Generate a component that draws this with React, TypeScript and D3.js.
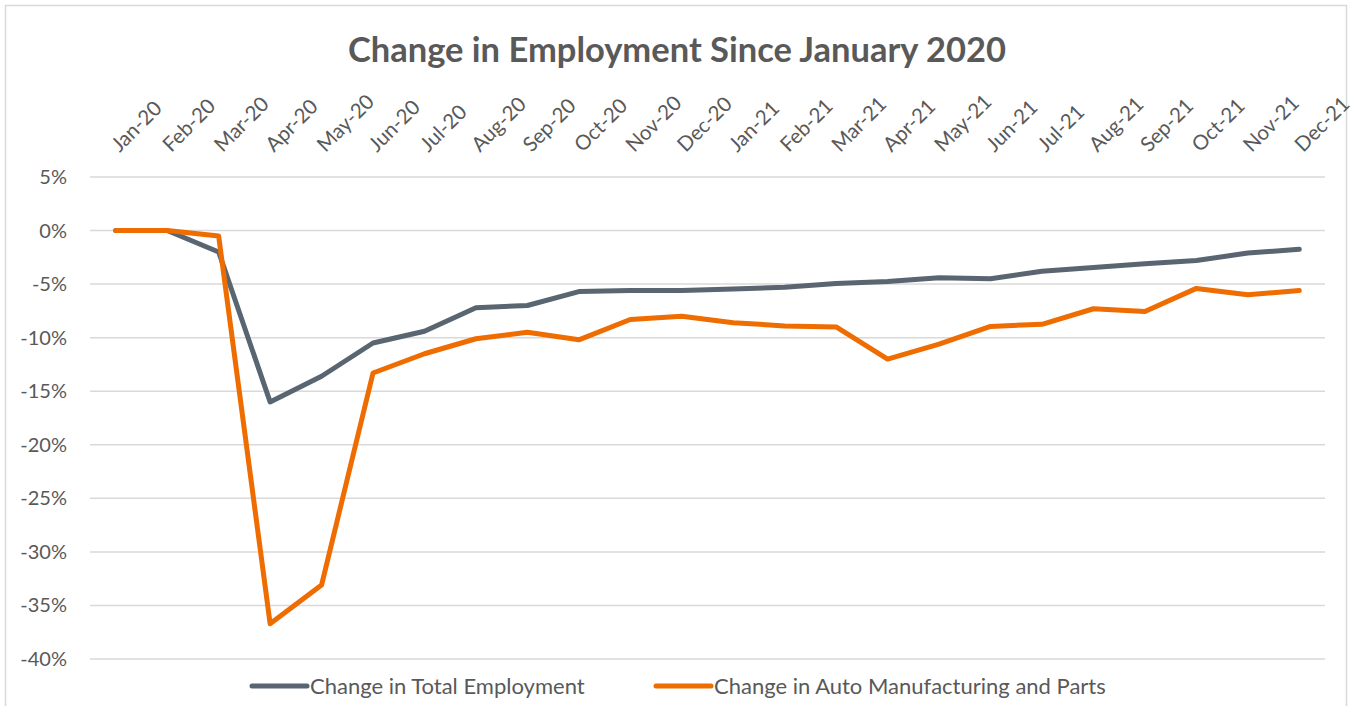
import * as d3 from 'd3';

const months = [
  'Jan-20', 'Feb-20', 'Mar-20', 'Apr-20', 'May-20', 'Jun-20', 'Jul-20', 'Aug-20',
  'Sep-20', 'Oct-20', 'Nov-20', 'Dec-20', 'Jan-21', 'Feb-21', 'Mar-21', 'Apr-21',
  'May-21', 'Jun-21', 'Jul-21', 'Aug-21', 'Sep-21', 'Oct-21', 'Nov-21', 'Dec-21',
];

// percent change since Jan 2020
const totalEmployment = [
  0, 0, -2.0, -16.0, -13.6, -10.5, -9.4, -7.2, -7.0, -5.7, -5.6, -5.6,
  -5.45, -5.3, -4.95, -4.75, -4.4, -4.5, -3.8, -3.45, -3.1, -2.8, -2.1, -1.75,
];

const autoManufacturing = [
  0, 0, -0.5, -36.7, -33.1, -13.3, -11.5, -10.1, -9.5, -10.2, -8.3, -8.0,
  -8.6, -8.9, -9.0, -12.0, -10.6, -8.95, -8.75, -7.3, -7.55, -5.4, -6.0, -5.6,
];

const yTicks = [5, 0, -5, -10, -15, -20, -25, -30, -35, -40];

const seriesNames = ['Change in Total Employment', 'Change in Auto Manufacturing and Parts'];
const seriesColors = ['#596570', '#EE6C00'];

const W = 1355;
const H = 706;
const plot = { left: 90, right: 1325, top: 177, bottom: 659 };
const font = 'Lato, "Open Sans", sans-serif';
const textColor = '#595959';

export default function App() {
  const x = d3.scaleBand<string>()
    .domain(months)
    .range([plot.left, plot.right]);

  const y = d3.scaleLinear()
    .domain([-40, 5])
    .range([plot.bottom, plot.top]);

  const cx = (m: string) => (x(m) || 0) + x.bandwidth() / 2;

  const line = d3.line<number>()
    .x((_, i) => cx(months[i]))
    .y(d => y(d));

  const series = [totalEmployment, autoManufacturing];

  return (
    <svg
      width={W}
      height={H}
      style={{ position: 'absolute', left: 0, top: 0, background: '#fff' }}
      fontFamily={font}
    >
      <rect x={5.5} y={5.5} width={1341} height={720} fill="#fff" stroke="#d9d9d9" strokeWidth={1.5} />

      <text
        x={677}
        y={62}
        textAnchor="middle"
        fontSize={34.5}
        fontWeight="bold"
        fill={textColor}
      >
        Change in Employment Since January 2020
      </text>

      {/* grid */}
      {yTicks.map(t => (
        <line
          key={t}
          x1={plot.left}
          x2={plot.right}
          y1={y(t)}
          y2={y(t)}
          stroke="#d9d9d9"
          strokeWidth={1.5}
        />
      ))}

      {/* y labels */}
      {yTicks.map(t => (
        <text
          key={t}
          x={67}
          y={y(t)}
          dy="0.35em"
          textAnchor="end"
          fontSize={20}
          fill={textColor}
        >
          {`${t}%`}
        </text>
      ))}

      {/* x labels, rotated, above the plot */}
      {months.map(m => (
        <text
          key={m}
          transform={`translate(${cx(m) + 4},${153}) rotate(-45)`}
          fontSize={20.5}
          fill={textColor}
        >
          {m}
        </text>
      ))}

      {series.map((s, i) => (
        <path
          key={i}
          d={line(s) || ''}
          fill="none"
          stroke={seriesColors[i]}
          strokeWidth={5}
          strokeLinejoin="round"
          strokeLinecap="round"
        />
      ))}

      {/* legend */}
      {seriesNames.map((name, i) => {
        const lx = i === 0 ? 252 : 656;
        return (
          <g key={name} transform={`translate(${lx},686)`}>
            <line x1={0} x2={55} y1={0} y2={0} stroke={seriesColors[i]} strokeWidth={5} strokeLinecap="round" />
            <text x={58} y={0} dy="0.35em" fontSize={22} fill={textColor}>
              {name}
            </text>
          </g>
        );
      })}
    </svg>
  );
}
